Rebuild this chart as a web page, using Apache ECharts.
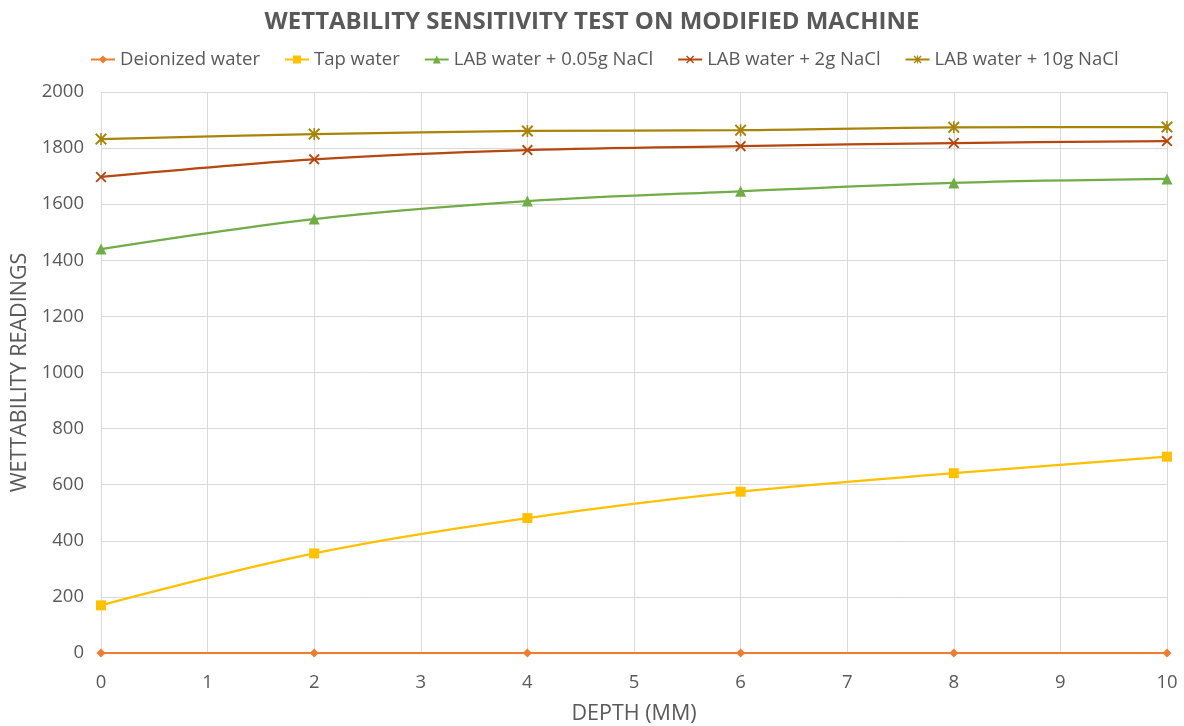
<!DOCTYPE html>
<html><head><meta charset="utf-8">
<script src="https://cdn.jsdelivr.net/npm/echarts@6/dist/echarts.min.js"></script>
<style>html,body{margin:0;padding:0;background:#fff}#c{width:1184px;height:726px}</style>
</head><body><div id="c"></div>
<script>
const depths = [0, 2, 4, 6, 8, 10];
const deionized = [0, 0, 0, 0, 0, 0];
const tapWater = [170, 355, 481, 575, 641, 700];
const lab005 = [1440, 1547, 1611, 1646, 1676, 1690];
const lab2g = [1697, 1760, 1793, 1807, 1818, 1825];
const lab10g = [1832, 1850, 1861, 1864, 1874, 1875];
const seriesNames = ['Deionized water', 'Tap water', 'LAB water + 0.05g NaCl', 'LAB water + 2g NaCl', 'LAB water + 10g NaCl'];
const yTicks = [0, 200, 400, 600, 800, 1000, 1200, 1400, 1600, 1800, 2000];

const xPath = 'path://M0,1.2L1.2,0L5,3.8L8.8,0L10,1.2L6.2,5L10,8.8L8.8,10L5,6.2L1.2,10L0,8.8L3.8,5Z';
const starPath = 'path://M0,1.2L1.2,0L5,3.8L8.8,0L10,1.2L6.2,5L10,8.8L8.8,10L5,6.2L1.2,10L0,8.8L3.8,5Z M4.35,0L5.65,0L5.65,10L4.35,10Z';

const pts = arr => depths.map((d, i) => [d, arr[i]]);
const font = '"Open Sans", "Noto Sans", sans-serif';

function mk(name, data, color, symbol, size) {
  return {
    name, type: 'line', data: pts(data), smooth: 0.35,
    symbol, symbolSize: size, showSymbol: true,
    lineStyle: { color, width: 2.25 },
    itemStyle: { color },
    emphasis: { disabled: true }
  };
}

const chart = echarts.init(document.getElementById('c'));
chart.setOption({
  animation: false,
  title: {
    text: 'WETTABILITY SENSITIVITY TEST ON MODIFIED MACHINE',
    left: 'center', top: 5,
    textStyle: { fontFamily: font, fontSize: 24, fontWeight: 'bold', color: '#595959' }
  },
  legend: {
    top: 45, left: 85, itemWidth: 24, itemHeight: 10, itemGap: 24,
    textStyle: { fontFamily: font, fontSize: 18.5, color: '#595959' },
    data: seriesNames
  },
  grid: { left: 101, right: 17, top: 92, bottom: 73, containLabel: false, outerBoundsMode: 'none' },
  xAxis: {
    type: 'value', min: 0, max: 10, interval: 1,
    name: 'DEPTH (MM)', nameLocation: 'middle', nameGap: 50,
    nameTextStyle: { fontFamily: font, fontSize: 21.5, color: '#595959' },
    axisLine: { show: true, lineStyle: { color: '#d9d9d9' } },
    axisTick: { show: false },
    axisLabel: { fontFamily: font, fontSize: 18.5, color: '#595959', margin: 20 },
    splitLine: { show: true, lineStyle: { color: '#d9d9d9', width: 1 } }
  },
  yAxis: {
    type: 'value', min: 0, max: 2000, interval: 200,
    name: 'WETTABILITY READINGS', nameLocation: 'middle', nameGap: 69,
    nameTextStyle: { fontFamily: font, fontSize: 21.5, color: '#595959' },
    axisLine: { show: false }, axisTick: { show: false },
    axisLabel: { fontFamily: font, fontSize: 18.5, color: '#595959', margin: 17,
      formatter: v => yTicks.includes(v) ? String(v) : '' },
    splitLine: { show: true, lineStyle: { color: '#d9d9d9', width: 1 } }
  },
  series: [
    mk(seriesNames[0], deionized, '#ED7D31', 'diamond', 9),
    mk(seriesNames[1], tapWater, '#FFC000', 'rect', 10),
    mk(seriesNames[2], lab005, '#70AD47', 'triangle', 11),
    mk(seriesNames[3], lab2g, '#B5470F', xPath, 11),
    mk(seriesNames[4], lab10g, '#A8840B', starPath, 12)
  ]
});
</script></body></html>
